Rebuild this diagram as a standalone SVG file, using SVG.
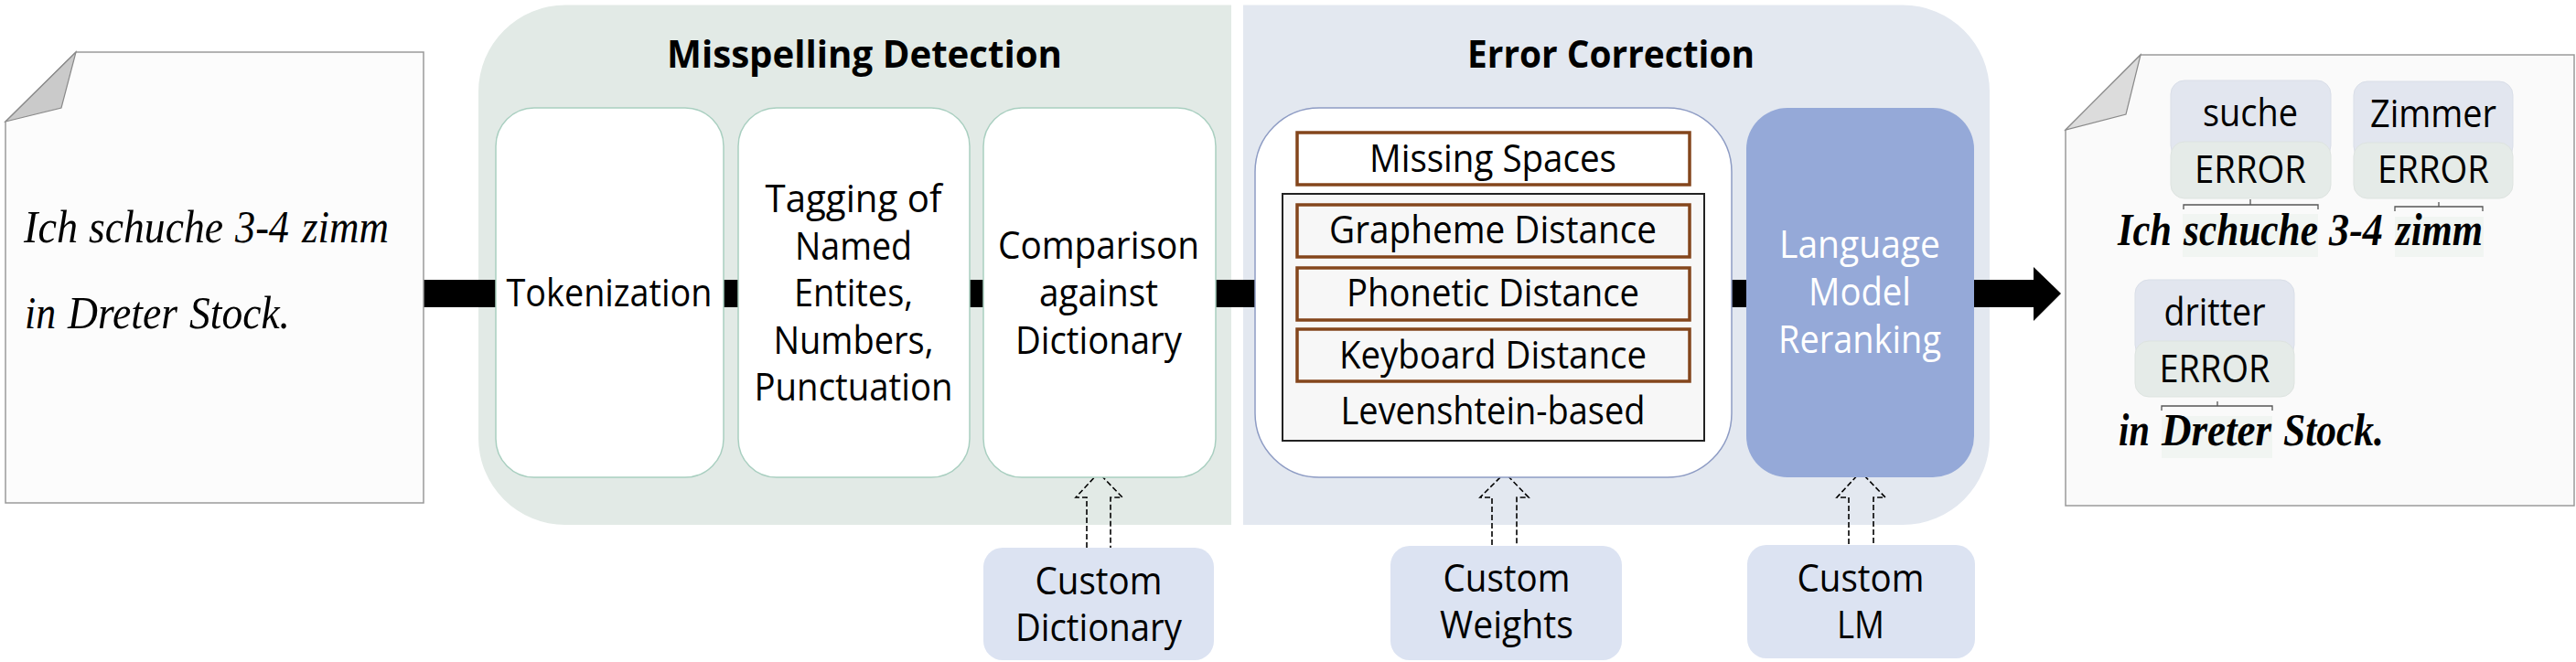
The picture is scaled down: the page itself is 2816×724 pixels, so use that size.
<svg xmlns="http://www.w3.org/2000/svg" width="2816" height="724" viewBox="0 0 2816 724">
<style>
.t{font-family:"Open Sans","Noto Sans","DejaVu Sans",sans-serif;font-size:42px;fill:#000;text-anchor:middle}
.b{font-weight:bold}
.w{fill:#fff}
.doc{fill:#fcfcfc;stroke:#9a9a9a;stroke-width:1.5}
.flap{fill:#cacaca;stroke:#8a8a8a;stroke-width:1.2}
.s{font-family:"Liberation Serif","Times New Roman",serif;font-style:italic;font-size:51px;fill:#000}
.md{fill:#fff;stroke:#a9cfc0;stroke-width:1.5}
.br{fill:#f7f7f7;stroke:#84461c;stroke-width:3.5}
.cust{fill:#dce3f2}
.dash{fill:none;stroke:#000;stroke-width:1.6;stroke-dasharray:6 3}
.tagT{fill:#e2e6ef;stroke:#d9dee8;stroke-width:1}
.tagB{fill:#e5ebe8;stroke:#dde3e0;stroke-width:1}
.hl{fill:#f1f5f2}
.brk{fill:none;stroke:#555;stroke-width:1.3}
</style>

<g id="panel-misspelling-detection">
<path d="M523,100 A95,95 0 0 1 618,5.5 H1346 V574 H618 A95,95 0 0 1 523,479 Z" fill="#e2eae6"/>
<text class="t b" x="945" y="74" textLength="432" lengthAdjust="spacingAndGlyphs">Misspelling Detection</text>
</g>
<g id="panel-error-correction">
<path d="M1359,5.5 H2080 A95,95 0 0 1 2175,100 V479 A95,95 0 0 1 2080,574 H1359 Z" fill="#e3e8f0"/>
<text class="t b" x="1761" y="74" textLength="314" lengthAdjust="spacingAndGlyphs">Error Correction</text>
</g>

<g id="connectors">
<rect x="463" y="306" width="1760" height="30" fill="#000"/>
<polygon points="2223,292 2253,321 2223,351" fill="#000"/>
<polyline class="dash" points="1188,599 1188,544 1176,544 1201,517 1227,544 1214,544 1214,599"/>
<polyline class="dash" points="1631,596 1631,544 1618,544 1645,517 1671,544 1658,544 1658,596"/>
<polyline class="dash" points="2021,595 2021,544 2008,544 2034,516 2061,544 2048,544 2048,595"/>
</g>

<g id="input-doc">
<polygon class="doc" points="83,57 463,57 463,550 6,550 6,133"/>
<polygon class="flap" points="83,57 67,118 6,133"/>
<text class="s" x="26" y="265" textLength="59" lengthAdjust="spacingAndGlyphs">Ich</text>
<text class="s" x="97" y="265" textLength="147" lengthAdjust="spacingAndGlyphs">schuche</text>
<text class="s" x="257" y="265" textLength="59" lengthAdjust="spacingAndGlyphs">3-4</text>
<text class="s" x="330" y="265" textLength="95" lengthAdjust="spacingAndGlyphs">zimm</text>
<text class="s" x="27" y="359" textLength="34" lengthAdjust="spacingAndGlyphs">in</text>
<text class="s" x="74" y="359" textLength="120" lengthAdjust="spacingAndGlyphs">Dreter</text>
<text class="s" x="207" y="359" textLength="110" lengthAdjust="spacingAndGlyphs">Stock.</text>
</g>

<g id="tokenization">
<rect class="md" x="542" y="118" width="249" height="404" rx="42"/>
<text class="t" x="666" y="335" textLength="225" lengthAdjust="spacingAndGlyphs">Tokenization</text>
</g>
<g id="tagging">
<rect class="md" x="807" y="118" width="253" height="404" rx="42"/>
<text class="t" x="933" y="232" textLength="193" lengthAdjust="spacingAndGlyphs">Tagging of</text>
<text class="t" x="933" y="284" textLength="128" lengthAdjust="spacingAndGlyphs">Named</text>
<text class="t" x="933" y="335" textLength="130" lengthAdjust="spacingAndGlyphs">Entites,</text>
<text class="t" x="933" y="387" textLength="175" lengthAdjust="spacingAndGlyphs">Numbers,</text>
<text class="t" x="933" y="438" textLength="217" lengthAdjust="spacingAndGlyphs">Punctuation</text>
</g>
<g id="comparison">
<rect class="md" x="1075" y="118" width="254" height="404" rx="42"/>
<text class="t" x="1201" y="283" textLength="220" lengthAdjust="spacingAndGlyphs">Comparison</text>
<text class="t" x="1201" y="335" textLength="130" lengthAdjust="spacingAndGlyphs">against</text>
<text class="t" x="1201" y="387" textLength="182" lengthAdjust="spacingAndGlyphs">Dictionary</text>
</g>

<g id="levenshtein">
<rect x="1372" y="118" width="521" height="404" rx="70" fill="#fff" stroke="#8e9cc4" stroke-width="1.5"/>
<rect x="1418" y="145" width="429" height="57" fill="#fff" stroke="#84461c" stroke-width="3.5"/>
<text class="t" x="1632" y="188" textLength="270" lengthAdjust="spacingAndGlyphs">Missing Spaces</text>
<rect x="1402" y="212" width="461" height="270" fill="#f7f7f7" stroke="#222" stroke-width="2"/>
<rect class="br" x="1418" y="224" width="429" height="57"/>
<text class="t" x="1632" y="266" textLength="358" lengthAdjust="spacingAndGlyphs">Grapheme Distance</text>
<rect class="br" x="1418" y="293" width="429" height="57"/>
<text class="t" x="1632" y="335" textLength="320" lengthAdjust="spacingAndGlyphs">Phonetic Distance</text>
<rect class="br" x="1418" y="360" width="429" height="57"/>
<text class="t" x="1632" y="403" textLength="336" lengthAdjust="spacingAndGlyphs">Keyboard Distance</text>
<text class="t" x="1632" y="464" textLength="333" lengthAdjust="spacingAndGlyphs">Levenshtein-based</text>
</g>

<g id="lm-reranking">
<rect x="1909" y="118" width="249" height="404" rx="45" fill="#95a9d8"/>
<text class="t w" x="2033" y="282" textLength="176" lengthAdjust="spacingAndGlyphs">Language</text>
<text class="t w" x="2033" y="334" textLength="112" lengthAdjust="spacingAndGlyphs">Model</text>
<text class="t w" x="2033" y="386" textLength="178" lengthAdjust="spacingAndGlyphs">Reranking</text>
</g>

<g id="custom-dictionary">
<rect class="cust" x="1075" y="599" width="252" height="123" rx="21"/>
<text class="t" x="1201" y="650" textLength="139" lengthAdjust="spacingAndGlyphs">Custom</text>
<text class="t" x="1201" y="701" textLength="182" lengthAdjust="spacingAndGlyphs">Dictionary</text>
</g>
<g id="custom-weights">
<rect class="cust" x="1520" y="597" width="253" height="125" rx="21"/>
<text class="t" x="1647" y="647" textLength="139" lengthAdjust="spacingAndGlyphs">Custom</text>
<text class="t" x="1647" y="698" textLength="146" lengthAdjust="spacingAndGlyphs">Weights</text>
</g>
<g id="custom-lm">
<rect class="cust" x="1910" y="596" width="249" height="124" rx="21"/>
<text class="t" x="2034" y="647" textLength="139" lengthAdjust="spacingAndGlyphs">Custom</text>
<text class="t" x="2034" y="698" textLength="52" lengthAdjust="spacingAndGlyphs">LM</text>
</g>

<g id="output-doc">
<polygon class="doc" points="2340,60 2814,60 2814,553 2258,553 2258,142" style="fill:#fafafa"/>
<polygon class="flap" points="2340,60 2324,125 2258,142" style="fill:#dcdcdc"/>
<rect class="hl" x="2386" y="234" width="148" height="47"/>
<rect class="hl" x="2618" y="237" width="97" height="44"/>
<rect class="hl" x="2363" y="455" width="121" height="46"/>
<text class="s b" x="2315" y="268" textLength="59" lengthAdjust="spacingAndGlyphs">Ich</text>
<text class="s b" x="2387" y="268" textLength="147" lengthAdjust="spacingAndGlyphs">schuche</text>
<text class="s b" x="2546" y="268" textLength="59" lengthAdjust="spacingAndGlyphs">3-4</text>
<text class="s b" x="2619" y="268" textLength="95" lengthAdjust="spacingAndGlyphs">zimm</text>
<text class="s b" x="2316" y="487" textLength="34" lengthAdjust="spacingAndGlyphs">in</text>
<text class="s b" x="2363" y="487" textLength="120" lengthAdjust="spacingAndGlyphs">Dreter</text>
<text class="s b" x="2496" y="487" textLength="110" lengthAdjust="spacingAndGlyphs">Stock.</text>
<path class="brk" d="M2387,229 V224 H2534 V229 M2460,224 V218"/>
<path class="brk" d="M2618,231 V226 H2714 V231 M2666,226 V221"/>
<path class="brk" d="M2363,449 V444 H2484 V449 M2424,444 V439"/>
</g>
<g id="tag-suche">
<rect class="tagT" x="2373" y="88" width="175" height="86" rx="15"/>
<rect class="tagB" x="2373" y="155" width="175" height="62" rx="15"/>
<text class="t" x="2460" y="138" textLength="104" lengthAdjust="spacingAndGlyphs">suche</text>
<text class="t" x="2460" y="200" textLength="122" lengthAdjust="spacingAndGlyphs">ERROR</text>
</g>
<g id="tag-zimmer">
<rect class="tagT" x="2573" y="89" width="174" height="86" rx="15"/>
<rect class="tagB" x="2573" y="156" width="174" height="61" rx="15"/>
<text class="t" x="2660" y="139" textLength="138" lengthAdjust="spacingAndGlyphs">Zimmer</text>
<text class="t" x="2660" y="200" textLength="122" lengthAdjust="spacingAndGlyphs">ERROR</text>
</g>
<g id="tag-dritter">
<rect class="tagT" x="2334" y="306" width="174" height="86" rx="15"/>
<rect class="tagB" x="2334" y="373" width="174" height="61" rx="15"/>
<text class="t" x="2421" y="356" textLength="111" lengthAdjust="spacingAndGlyphs">dritter</text>
<text class="t" x="2421" y="418" textLength="121" lengthAdjust="spacingAndGlyphs">ERROR</text>
</g>
</svg>
